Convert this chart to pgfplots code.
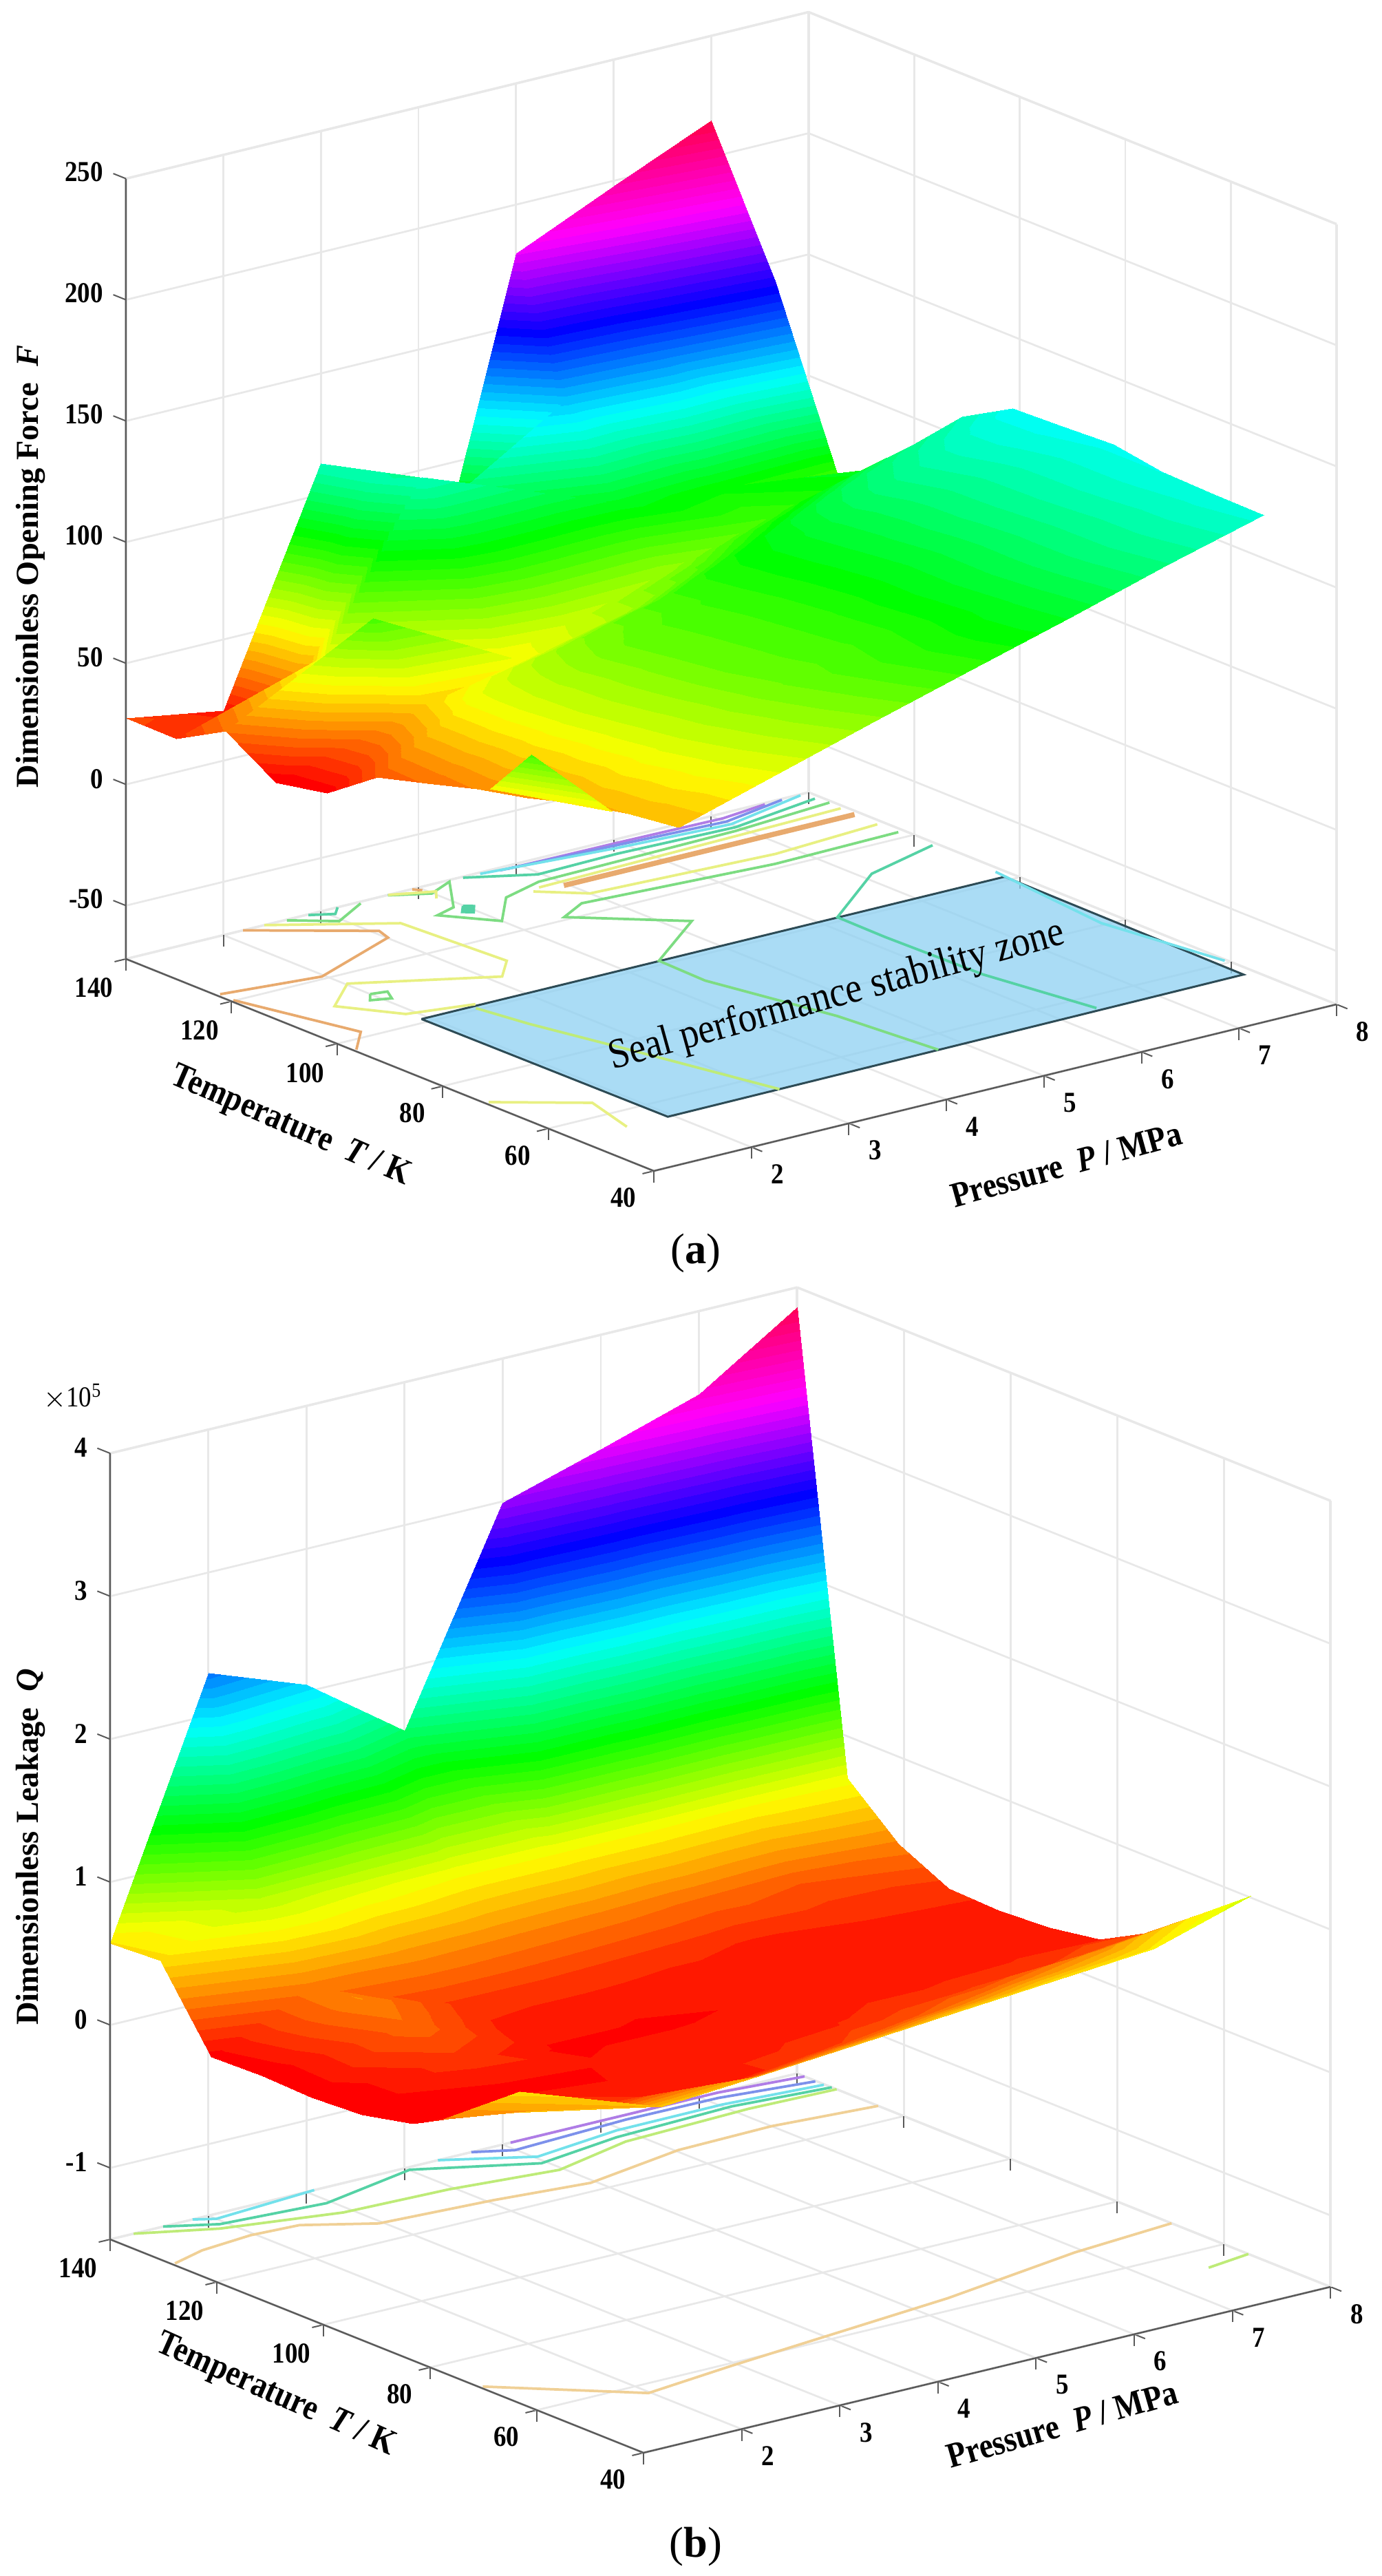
\documentclass[border=0pt]{standalone}
\usepackage{fontspec}
\setmainfont{Liberation Serif}
\newfontfamily\condfont[FakeStretch=0.88]{Liberation Serif}
\usepackage{pgfplots}
\pgfplotsset{compat=1.18}

\definecolor{axline}{RGB}{90,90,90}
\definecolor{gridc}{RGB}{232,232,232}
\definecolor{cOrange}{RGB}{232,170,110}
\definecolor{cPale}{RGB}{240,208,150}
\definecolor{cYellow}{RGB}{232,240,130}
\definecolor{cLime}{RGB}{190,235,120}
\definecolor{cGreen}{RGB}{125,220,130}
\definecolor{cTeal}{RGB}{85,210,165}
\definecolor{cCyan}{RGB}{115,225,235}
\definecolor{cBlue}{RGB}{125,145,235}
\definecolor{cPurple}{RGB}{175,125,230}
\definecolor{zoneFill}{RGB}{142,208,242}
\definecolor{zoneEdge}{RGB}{45,75,85}

\newcommand{\labfont}{\fontsize{10.3}{12}\condfont\bfseries}
\newcommand{\zlabfont}{\fontsize{9.3}{11}\selectfont\bfseries}

\pgfplotsset{
    colormap={hsvr}{rgb255=(255,0,0) rgb255=(255,255,0) rgb255=(0,255,0) rgb255=(0,255,255) rgb255=(0,0,255) rgb255=(255,0,255) rgb255=(255,0,70)},
    colormap={bands}{samples of colormap=(64 of hsvr)},
    sealaxis/.style={
        clip=false,
        colormap name=bands,
        colormap access=piecewise constant,
        anchor=south west,
        xmin=1,xmax=8,ymin=40,ymax=140,
        xtick={2,...,8},ytick={40,60,...,140},
        tick pos=left,
        grid=major,
        grid style={draw=gridc,line width=.55pt},
        axis line style={draw=gridc,line width=.7pt},
        tick align=outside,
        major tick length=3.4pt,
        tick style={draw=axline,line width=.4pt},
        major z tick style={draw=none},
        tick label style={font=\fontsize{8.4}{9}\condfont\bfseries},
        /pgf/number format/assume math mode=true,
    },
    cont/.style={line width=.75pt,forget plot},
}

\begin{document}
\begin{tikzpicture}
\path[use as bounding box] (0,0) rectangle (401.4pt,748.4pt);

% (a) opening force
\begin{axis}[sealaxis,
    at={(36.6pt,408.2pt)},
    x={(28.34pt,6.914pt)},y={(-1.534pt,.616pt)},z={(0pt,.704pt)},
    zmin=-72,zmax=250,
    ztick={-50,0,...,250},
    point meta min=17,point meta max=217,
    xlabel={Pressure\ \ \textit{P} / MPa},
    ylabel={Temperature\ \ \textit{T} / K},
    zlabel={Dimensionless Opening Force\ \ \textit{F}},
    every axis x label/.style={at={(axis cs:3.73,12.3,-72)},rotate=15.5,anchor=center,font=\labfont},
    every axis y label/.style={at={(axis cs:-.62,78.9,-72)},rotate=-23.4,anchor=center,font=\labfont},
    every axis z label/.style={at={(axis cs:1,140,89.9)},xshift=-27.6pt,rotate=90,anchor=center,font=\zlabfont},
]
\addplot3[fill=zoneFill,fill opacity=.75,draw=zoneEdge,line width=.6pt,forget plot] coordinates {
    (1.93,101.2,-72) (7.91,101.2,-72) (7.88,55.4,-72) (1.95,54.9,-72) (1.93,101.2,-72)};

\addplot3[cont,cPurple] coordinates {(4.86,139.1,-72) (5.97,138.9,-72) (7.04,138.5,-72) (7.53,139.6,-72)};
\addplot3[cont,cBlue] coordinates {(4.79,139.2,-72) (5.98,138.2,-72) (7.01,137.3,-72) (7.71,139.7,-72)};
\addplot3[cont,cCyan] coordinates {(4.61,139.6,-72) (5.89,137.4,-72) (7,136.2,-72) (7.9,139.7,-72)};
\addplot3[cont,cTeal] coordinates {(4.44,139.7,-72) (4.97,135.3,-72) (5.8,135.7,-72) (6.98,135,-72) (7.94,137.7,-72)};
\addplot3[cont,cGreen] coordinates {(3.68,139.9,-72) (3.99,137.3,-72) (4.29,139.5,-72) (3.91,131.7,-72) (3.68,130.5,-72) (4,124.2,-72) (4.4,130.8,-72) (4.86,133.1,-72) (6.92,133.9,-72) (7.97,135.5,-72)};
\addplot3[cont,cYellow] coordinates {(4.77,131.4,-72) (6.89,132.4,-72) (7.95,133,-72)};
\addplot3[cont,cOrange,line width=1.5pt] coordinates {(4.96,130.2,-72) (7.94,130.2,-72)};
\addplot3[cont,cYellow] coordinates {(4.67,130.6,-72) (5,126,-72) (6.81,124.3,-72) (7.93,125.7,-72)};
\addplot3[cont,cGreen] coordinates {(7.94,121.9,-72) (6.65,121.4,-72) (4.79,123.7,-72) (4.46,120.9,-72) (5.21,110.6,-72) (4.37,101.3,-72) (4.35,92.2,-72) (4.63,72.3,-72) (4.74,55.2,-72)};
\addplot3[cont,cTeal] coordinates {(7.95,115.6,-72) (7.11,111.6,-72) (6.2,101.3,-72) (6.19,92.1,-72) (6.22,74.1,-72) (6.41,56.1,-72)};
\addplot3[cont,cCyan] coordinates {(7.93,103.3,-72) (7.79,80.7,-72) (7.98,60.8,-72)};
\addplot3[cont,cLime] coordinates {(2.45,100.5,-72) (2.54,92.1,-72) (2.82,74,-72) (3.1,55,-72)};
\addplot3[cont,cYellow] coordinates {(1.04,72,-72) (1.69,64.4,-72) (1.53,54.9,-72)};
\addplot3[cont,cOrange] coordinates {(2.2,140,-72) (3.06,130.1,-72) (3.01,127.5,-72) (1.97,120.8,-72) (1.04,122.9,-72)};
\addplot3[cont,cOrange] coordinates {(1.03,120.2,-72) (1.34,101.8,-72) (1.03,96.9,-72)};
\addplot3[cont,cYellow] coordinates {(2.42,140,-72) (3.32,130.8,-72) (3.4,112.2,-72) (3.12,107.9,-72) (2.02,116.9,-72) (1.58,111.2,-72) (1.91,103.8,-72) (2.51,101.7,-72)};
\addplot3[cont,cGreen] coordinates {(2,112.2,-72) (2.15,111.7,-72) (2.07,109.4,-72) (1.9,110.4,-72) (2,112.2,-72)};
\addplot3[cont,cGreen] coordinates {(2.64,139.8,-72) (2.96,135.8,-72) (3.38,139.5,-72)};
\addplot3[cont,cTeal] coordinates {(2.86,139.8,-72) (3.05,138.2,-72) (3.17,140,-72)};
\addplot3[cont,cOrange] coordinates {(3.93,139.9,-72) (3.98,138.9,-72)};
\addplot3[cont,cYellow] coordinates {(3.69,140,-72) (4.05,137.6,-72) (3.94,135.5,-72)};
\addplot3[cont,cTeal,fill=cTeal] coordinates {(3.99,131.4,-72) (4.06,130.6,-72) (3.96,128.8,-72) (3.89,129.7,-72) (3.99,131.4,-72)};

\addplot3[surf,shader=interp,mesh/cols=7,forget plot] coordinates {
(1,140,27.4) (2,140,20.6) (3.19,143.6,108) (4,140,29) (5,140,180) (6,140,198) (7,140,215)
(1.11,132.5,24.5) (2.11,132.5,22) (3.34,136.8,106) (4.11,132.5,100) (5.11,132.5,125) (6.11,132.5,135) (7.25,132.5,153)
(1.22,125.1,33) (2.22,125.1,54) (3.61,132.2,108) (4.41,128.7,98) (5.22,125.1,88) (6.22,125.1,84) (7.48,125.1,78)
(1.33,117.7,17) (2.33,117.7,75) (3.44,113.8,52) (4.16,114.5,58) (5.33,117.7,65) (6.33,117.7,76) (7.33,117.7,87)
(1.45,110.2,18) (2.45,110.2,45) (3.45,110.2,53) (4.45,110.2,62) (5.45,110.2,76) (6.45,110.2,89.5) (7.45,110.2,103)
(1.56,102.8,30) (2.56,102.8,53.5) (3.56,102.8,66) (4.56,102.8,76) (5.75,106.4,86) (6.87,108.5,98) (8.02,111.3,108)
(1.67,95.3,33) (2.67,95.3,56) (3.67,95.3,70) (4.82,98.1,78) (5.98,101,90) (7.06,102.4,104) (8.17,104.5,116)
(1.78,87.9,36) (2.78,87.9,57) (3.78,87.9,70) (4.95,91.1,78) (6.07,93.2,90) (7.17,95,103) (8.2,95.7,116)
(1.89,80.4,38) (2.89,80.4,57) (3.89,80.4,70) (5.04,83.2,78) (6.16,85.4,90) (7.2,86.1,103) (8.28,87.5,115)
(2,73,41) (3,73,57) (4,73,69.4) (5.12,75.1,78) (6.14,75.6,90) (7.18,76.3,102) (8.19,76.6,114)
(2.12,65.5,42) (3.12,65.5,56) (4.12,65.5,68) (5.12,65.5,79) (6.18,66.5,89.5) (7.19,66.7,102) (8.2,66.9,113)
(2.23,58,42) (3.23,58,54) (4.23,58,66) (5.23,58,77.5) (6.23,58,89) (7.23,58,101) (8.23,58,112)
};
\addplot3[patch,patch type=triangle,shader=interp,forget plot] coordinates {
(1.25,75.7,52) (1.17,66.4,75) (1.75,61.7,50)};

\draw[axline,line width=.5pt] (axis cs:1,140,250) -- (axis cs:1,140,-72) -- (axis cs:1,40,-72) -- (axis cs:8,40,-72);
\pgfplotsinvokeforeach{-50,0,50,100,150,200,250}{
    \draw[axline,line width=.4pt] (axis cs:1,140,#1) -- (axis cs:1,142.4,#1);
}
\node[rotate=15.5,font=\fontsize{12.3}{14}\condfont] at (axis cs:4.94,78.1,-72) {Seal performance stability zone};
\end{axis}

% (b) leakage
\begin{axis}[sealaxis,
    at={(32pt,35.8pt)},
    x={(28.52pt,6.886pt)},y={(-1.55pt,.62pt)},z={(0pt,41.52pt)},
    zmin=-1.5,zmax=4,
    ztick={-1,0,...,4},
    point meta min=-.05,point meta max=3.95,
    xlabel={Pressure\ \ \textit{P} / MPa},
    ylabel={Temperature\ \ \textit{T} / K},
    zlabel={Dimensionless Leakage\ \ \textit{Q}},
    every axis x label/.style={at={(axis cs:4.11,18.7,-1.5)},rotate=16,anchor=center,font=\labfont},
    every axis y label/.style={at={(axis cs:-.43,82.7,-1.5)},rotate=-24,anchor=center,font=\labfont},
    every axis z label/.style={at={(axis cs:1,140,1.246)},xshift=-23pt,rotate=90,anchor=center,font=\zlabfont},
]
\addplot3[cont,cPale] coordinates {(1.03,128.4,-1.5) (1.41,130.3,-1.5) (1.96,131.3,-1.5) (2.43,130.8,-1.5) (2.96,125.7,-1.5) (4.06,124.4,-1.5) (4.95,122.6,-1.5) (6.03,126,-1.5) (7,126.4,-1.5) (8,124.8,-1.5)};
\addplot3[cont,cLime] coordinates {(1.24,140,-1.5) (1.87,135.4,-1.5) (2.91,131.4,-1.5) (3.95,130.7,-1.5) (4.96,128.6,-1.5) (5.83,132.2,-1.5) (7.13,133.1,-1.5) (8,132.6,-1.5)};
\addplot3[cont,cTeal] coordinates {(1.54,140,-1.5) (1.94,136.7,-1.5) (2.95,135.3,-1.5) (4.01,139.2,-1.5) (4.95,131.8,-1.5) (5.84,134.1,-1.5) (7.06,135,-1.5) (8,133.5,-1.5)};
\addplot3[cont,cCyan] coordinates {(1.84,140,-1.5) (2,138.5,-1.5) (3.08,140,-1.5)};
\addplot3[cont,cCyan] coordinates {(4.34,140,-1.5) (5.03,134,-1.5) (5.95,136.1,-1.5) (7.03,136.2,-1.5) (7.99,134.8,-1.5)};
\addplot3[cont,cBlue] coordinates {(4.68,140,-1.5) (4.99,137.5,-1.5) (6.18,138.6,-1.5) (7.11,138.4,-1.5) (7.99,136.4,-1.5)};
\addplot3[cont,cPurple] coordinates {(5.08,140,-1.5) (6.19,140,-1.5) (7.19,140,-1.5) (8,138.6,-1.5)};
\addplot3[cont,cPale] coordinates {(1.03,70.7,-1.5) (1.98,57.1,-1.5) (2.94,59.2,-1.5) (5.39,63.7,-1.5) (6.92,68.1,-1.5) (8,69.8,-1.5)};
\addplot3[cont,cLime] coordinates {(7.53,54.2,-1.5) (8,55.4,-1.5)};

\addplot3[surf,shader=interp,mesh/cols=8,forget plot] coordinates {
(1,140,.57) (2,140,2.3) (3,140,2.05) (4,140,1.56) (5,140,2.99) (6,140,3.2) (7,140,3.42) (8,140,3.86)
(1.09,132.2,.55) (2.09,132.2,.83) (3.09,132.2,.73) (4.09,132.2,.65) (5.09,132.2,.65) (6.09,132.2,.65) (7.09,132.2,.63) (8.09,132.2,.67)
(1.18,124.4,-.02) (2.18,124.4,.3) (3.18,124.4,.35) (4.18,124.4,.33) (5.18,124.4,.3) (6.18,124.4,.25) (7.18,124.4,.2) (8.18,124.4,.31)
(1.27,116.6,-.05) (2.27,116.6,.33) (3.27,116.6,.12) (4.27,116.6,.12) (5.27,116.6,.1) (6.27,116.6,.07) (7.27,116.6,.09) (8.27,116.6,.1)
(1.36,108.8,-.1) (2.36,108.8,.25) (3.36,108.8,.05) (4.36,108.8,.03) (5.36,108.8,.02) (6.36,108.8,.02) (7.36,108.8,.04) (8.36,108.8,.05)
(1.45,101,-.12) (2.45,101,.12) (3.45,101,0) (4.45,101,0) (5.45,101,.02) (6.45,101,.03) (7.45,101,.03) (8.45,101,.03)
(1.54,93.2,-.08) (2.54,93.2,-.02) (3.54,93.2,.02) (4.54,93.2,.04) (5.54,93.2,.05) (6.54,93.2,.05) (7.54,93.2,.06) (8.54,93.2,.05)
(1.22,77.9,.25) (2.63,85.4,.06) (3.63,85.4,.03) (4.63,85.4,.05) (5.63,85.4,.08) (6.63,85.4,.11) (7.63,85.4,.14) (8.63,85.4,.2)
(1.04,65.1,.5) (2.72,77.6,.11) (3.72,77.6,.03) (4.72,77.6,.11) (5.72,77.6,.19) (6.72,77.6,.27) (7.72,77.6,.35) (8.72,77.6,.43)
(1.51,64.4,.45) (2.08,56.4,.5) (3.31,60.6,.45) (4.37,61.6,.48) (5.4,62.3,.52) (6.44,62.9,.56) (7.47,63.5,.6) (8.61,66,.75)
};
\addplot3[patch,patch type=triangle,shader=interp,forget plot] coordinates {
(.92,76.5,.3) (1.3,68.8,.55) (1.52,67.8,.4)
(1.3,68.8,.55) (2.18,58.5,.45) (1.52,67.8,.4)};

\draw[axline,line width=.5pt] (axis cs:1,140,4) -- (axis cs:1,140,-1.5) -- (axis cs:1,40,-1.5) -- (axis cs:8,40,-1.5);
\pgfplotsinvokeforeach{-1,0,1,2,3,4}{
    \draw[axline,line width=.4pt] (axis cs:1,140,#1) -- (axis cs:1,142.4,#1);
}
\end{axis}

\node[font=\fontsize{8.4}{9}\condfont] at (21.2pt,342.6pt) {$\times$10\textsuperscript{5}};
\node[font=\fontsize{12.5}{14}\selectfont] at (202.2pt,384.2pt) {(\textbf{a})};
\node[font=\fontsize{12.5}{14}\selectfont] at (202.2pt,8.6pt) {(\textbf{b})};
\end{tikzpicture}
\end{document}
